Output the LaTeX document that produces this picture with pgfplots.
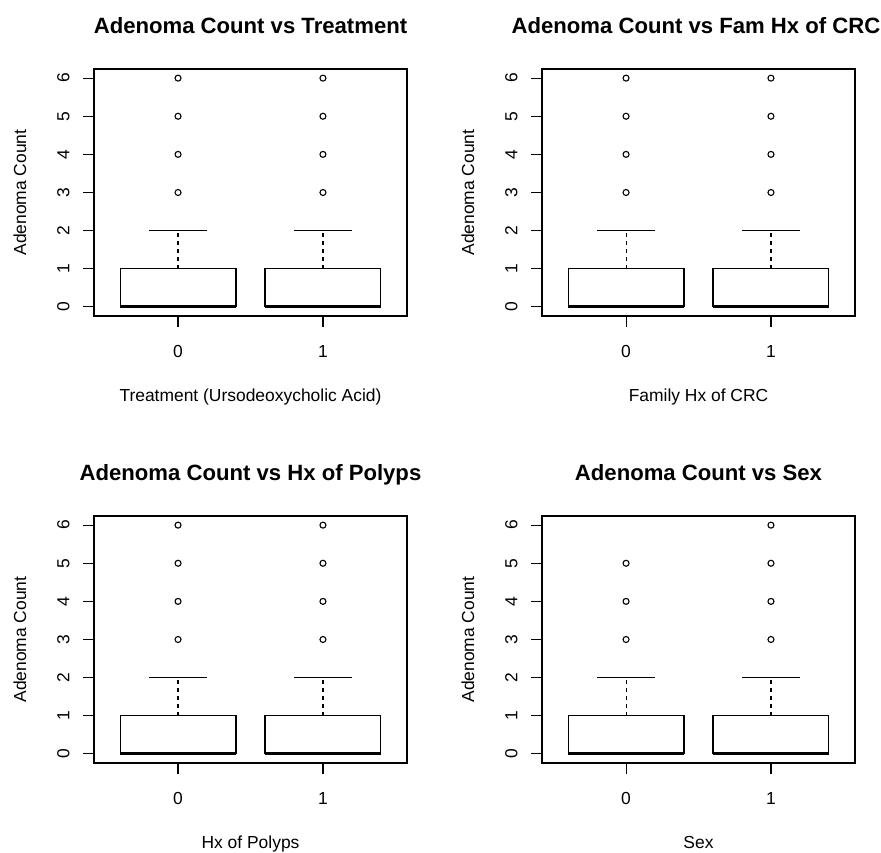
\documentclass[border=0pt]{standalone}
\usepackage{fontspec}
\setmainfont{Liberation Sans}
\usepackage{pgfplots}
\pgfplotsset{compat=1.18}
\newcommand\nfont{\fontsize{17.5}{20}\selectfont}
\newcommand\tfont{\fontsize{22.2}{26}\selectfont\bfseries}
\pgfplotsset{
  rbox/.style={
    scale only axis, width=313bp, height=247bp,
    anchor=south west,
    xmin=-0.58, xmax=1.58, ymin=-0.24, ymax=6.24,
    xtick={0,1}, ytick={0,1,2,3,4,5,6},
    tick pos=left, tick align=outside,
    major tick length=11bp,
    axis line style={line width=1.1bp},
    every tick/.style={black, line width=1.1bp},
    /pgf/number format/assume math mode=true,
    tick label style={font=\nfont},
    xticklabel style={yshift=-15bp},
    yticklabel style={rotate=90, anchor=south, yshift=10bp},
    every axis title/.style={font=\tfont, at={(axis description cs:0.5,1.1457)}, anchor=base},
    xlabel style={font=\nfont, at={(axis description cs:0.5,-0.347)}, anchor=base},
    ylabel style={font=\nfont, at={(axis description cs:-0.2364,0.5)}, anchor=center},
    ylabel={Adenoma Count},
    clip=false,
  },
  boxl/.style={black, line width=1.1bp, no marks},
  medl/.style={black, line width=3.2bp, no marks},
  whl/.style={black, line width=1.1bp, dash pattern=on 4bp off 4bp, no marks},
  outl/.style={black, only marks, mark=o, mark size=3bp, mark options={line width=1.1bp}},
}
\begin{document}
\begin{tikzpicture}
\path[use as bounding box] (0,0) rectangle (881bp,853bp);

% Panel 1
\begin{axis}[rbox, at={(94bp,537bp)}, title={Adenoma Count vs Treatment}, xlabel={Treatment (Ursodeoxycholic Acid)}]
\addplot[boxl] coordinates {(-0.4,0) (0.4,0) (0.4,1) (-0.4,1) (-0.4,0)};
\addplot[medl] coordinates {(-0.4,0) (0.4,0)};
\addplot[whl] coordinates {(0,1) (0,2)};
\addplot[boxl] coordinates {(-0.2,2) (0.2,2)};
\addplot[outl] coordinates {(0,3) (0,4) (0,5) (0,6)};
\addplot[boxl] coordinates {(0.6,0) (1.4,0) (1.4,1) (0.6,1) (0.6,0)};
\addplot[medl] coordinates {(0.6,0) (1.4,0)};
\addplot[whl] coordinates {(1,1) (1,2)};
\addplot[boxl] coordinates {(0.8,2) (1.2,2)};
\addplot[outl] coordinates {(1,3) (1,4) (1,5) (1,6)};
\end{axis}

% Panel 2
\begin{axis}[rbox, at={(542bp,537bp)}, title={Adenoma Count vs Fam Hx of CRC}, xlabel={Family Hx of CRC}, title style={xshift=-2.5bp}]
\addplot[boxl] coordinates {(-0.4,0) (0.4,0) (0.4,1) (-0.4,1) (-0.4,0)};
\addplot[medl] coordinates {(-0.4,0) (0.4,0)};
\addplot[whl] coordinates {(0,1) (0,2)};
\addplot[boxl] coordinates {(-0.2,2) (0.2,2)};
\addplot[outl] coordinates {(0,3) (0,4) (0,5) (0,6)};
\addplot[boxl] coordinates {(0.6,0) (1.4,0) (1.4,1) (0.6,1) (0.6,0)};
\addplot[medl] coordinates {(0.6,0) (1.4,0)};
\addplot[whl] coordinates {(1,1) (1,2)};
\addplot[boxl] coordinates {(0.8,2) (1.2,2)};
\addplot[outl] coordinates {(1,3) (1,4) (1,5) (1,6)};
\end{axis}

% Panel 3
\begin{axis}[rbox, at={(94bp,90bp)}, title={Adenoma Count vs Hx of Polyps}, xlabel={Hx of Polyps}]
\addplot[boxl] coordinates {(-0.4,0) (0.4,0) (0.4,1) (-0.4,1) (-0.4,0)};
\addplot[medl] coordinates {(-0.4,0) (0.4,0)};
\addplot[whl] coordinates {(0,1) (0,2)};
\addplot[boxl] coordinates {(-0.2,2) (0.2,2)};
\addplot[outl] coordinates {(0,3) (0,4) (0,5) (0,6)};
\addplot[boxl] coordinates {(0.6,0) (1.4,0) (1.4,1) (0.6,1) (0.6,0)};
\addplot[medl] coordinates {(0.6,0) (1.4,0)};
\addplot[whl] coordinates {(1,1) (1,2)};
\addplot[boxl] coordinates {(0.8,2) (1.2,2)};
\addplot[outl] coordinates {(1,3) (1,4) (1,5) (1,6)};
\end{axis}

% Panel 4
\begin{axis}[rbox, at={(542bp,90bp)}, title={Adenoma Count vs Sex}, xlabel={Sex}]
\addplot[boxl] coordinates {(-0.4,0) (0.4,0) (0.4,1) (-0.4,1) (-0.4,0)};
\addplot[medl] coordinates {(-0.4,0) (0.4,0)};
\addplot[whl] coordinates {(0,1) (0,2)};
\addplot[boxl] coordinates {(-0.2,2) (0.2,2)};
\addplot[outl] coordinates {(0,3) (0,4) (0,5)};
\addplot[boxl] coordinates {(0.6,0) (1.4,0) (1.4,1) (0.6,1) (0.6,0)};
\addplot[medl] coordinates {(0.6,0) (1.4,0)};
\addplot[whl] coordinates {(1,1) (1,2)};
\addplot[boxl] coordinates {(0.8,2) (1.2,2)};
\addplot[outl] coordinates {(1,3) (1,4) (1,5) (1,6)};
\end{axis}
\end{tikzpicture}
\end{document}
